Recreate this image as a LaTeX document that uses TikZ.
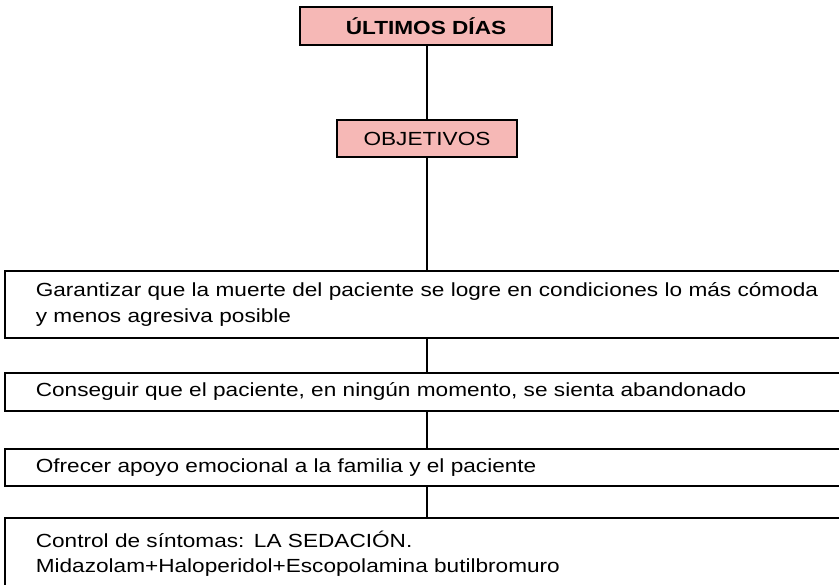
\documentclass[tikz,border=0pt]{standalone}
\usepackage{fontspec}
\setmainfont[FakeStretch=1.19]{Liberation Sans}
\usetikzlibrary{positioning}
\definecolor{titlepink}{RGB}{246,184,182}
\tikzset{x=1pt,y=-1pt,
    titlebox/.style={draw,line width=1.6pt,fill=titlepink,inner sep=0pt},
    goalbox/.style={draw,line width=1.6pt,anchor=north west,align=left,
        text width=818pt,inner xsep=31pt,inner ysep=0pt,minimum width=880pt},
    link/.style={line width=1.2pt},
    }

\begin{document}
\begin{tikzpicture}
	\clip (0,0) rectangle (839,585);
	\fontsize{19}{25.5}\selectfont
	\node[titlebox,minimum width=252pt,minimum height=38pt] (dias) at (426,26) {\textbf{ÚLTIMOS DÍAS}};
	\node[titlebox,minimum width=180pt,minimum height=37pt] (obj) at (427,138.5) {OBJETIVOS};
	\node[goalbox,minimum height=67pt] (g1) at (4,270)
		{Garantizar que la muerte del paciente se logre en condiciones lo más cómoda\\y menos agresiva posible};
	\node[goalbox,minimum height=38pt] (g2) at (4,372)
		{Conseguir que el paciente, en ningún momento, se sienta abandonado};
	\node[goalbox,minimum height=37pt] (g3) at (4,448)
		{Ofrecer apoyo emocional a la familia y el paciente};
	\node[goalbox,minimum height=72pt] (g4) at (4,517)
		{Control de síntomas: LA SEDACIÓN.\\Midazolam+Haloperidol+Escopolamina butilbromuro};
	\draw[link] (dias.south) -- (obj.south |- dias.south) -- (obj.north);
	\draw[link] (obj.south) -- (obj.south |- g1.north);
	\draw[link] (obj.south |- g1.south) -- (obj.south |- g2.north);
	\draw[link] (obj.south |- g2.south) -- (obj.south |- g3.north);
	\draw[link] (obj.south |- g3.south) -- (obj.south |- g4.north);
\end{tikzpicture}
\end{document}
